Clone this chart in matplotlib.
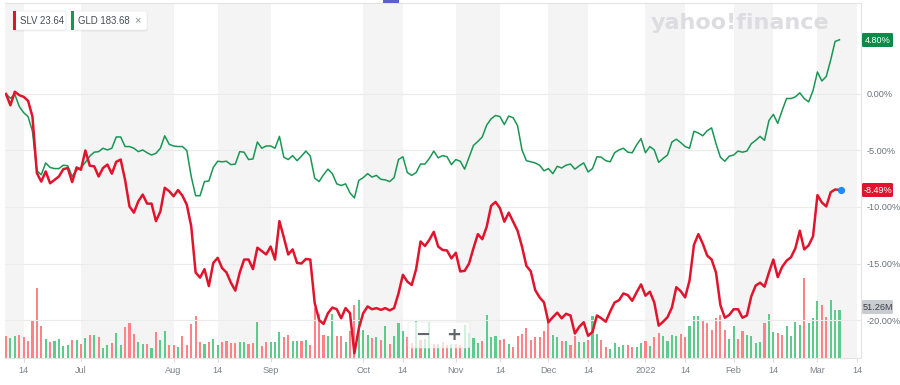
import numpy as np
import pandas as pd
import matplotlib
matplotlib.use("Agg")
import matplotlib.pyplot as plt
from matplotlib.patches import FancyBboxPatch, Rectangle

plt.rcParams['font.family'] = ['Liberation Sans', 'DejaVu Sans']

# trading days: series run Jun 8 2021 -> Mar 8 2022, axis runs on to Mar 14
holidays = ["2021-07-05", "2021-09-06", "2021-11-25", "2021-12-24",
            "2022-01-17", "2022-02-21"]
days = pd.bdate_range("2021-06-08", "2022-03-14")
days = days[~days.isin(pd.to_datetime(holidays))]

# % change since first day
slv_pct = [
    0.0, -1.0, 0.2, -0.1, -0.25, -0.6, -2.0, -7.0, -7.75, -6.85,
    -7.9, -7.6, -7.3, -6.65, -6.55, -7.8, -6.5, -6.7, -5.0, -6.35,
    -6.4, -7.3, -6.55, -6.25, -7.05, -6.0, -5.8, -7.6, -9.95, -10.5,
    -9.5, -8.9, -9.7, -9.7, -11.25, -10.4, -8.3, -8.6, -9.05, -8.5,
    -9.0, -9.8, -11.7, -15.8, -16.25, -15.5, -17.0, -14.95, -14.5, -15.4,
    -15.8, -16.7, -17.4, -15.8, -14.65, -14.65, -15.5, -13.6, -13.9, -14.2,
    -13.5, -14.65, -11.25, -12.7, -14.2, -13.75, -14.95, -15.0, -14.6, -14.65,
    -18.5, -20.0, -20.35, -19.4, -18.9, -19.05, -19.85, -18.95, -19.4, -22.95,
    -20.75, -19.4, -18.8, -19.05, -18.95, -19.1, -18.95, -19.15, -18.95, -17.65,
    -16.0, -16.6, -16.9, -15.5, -13.05, -13.45, -12.9, -12.2, -13.5, -13.8,
    -13.85, -14.55, -14.05, -15.7, -15.65, -15.0, -13.65, -12.4, -12.85, -11.75,
    -9.9, -9.55, -10.1, -11.3, -10.5, -11.3, -12.1, -13.5, -15.2, -15.7,
    -17.35, -18.0, -18.45, -20.2, -19.75, -19.35, -19.85, -19.45, -19.6, -21.2,
    -20.6, -20.2, -21.4, -21.05, -19.6, -19.85, -20.15, -19.25, -18.45, -18.25,
    -17.65, -17.8, -18.3, -17.55, -16.85, -17.85, -17.5, -18.45, -20.5, -20.15,
    -19.75, -18.9, -17.1, -17.45, -18.0, -16.5, -13.35, -12.4, -13.25, -14.3,
    -14.65, -15.8, -18.7, -19.8, -19.55, -19.05, -19.05, -19.8, -19.6, -17.9,
    -16.95, -16.7, -17.05, -15.8, -14.65, -16.2, -15.3, -14.75, -14.45, -13.65,
    -12.1, -13.75, -13.4, -12.6, -8.95, -9.6, -9.95, -8.7, -8.45, -8.49,
]
gld_pct = [
    0.0, -0.38, -0.03, -1.1, -1.65, -2.0, -3.3, -6.8, -7.15, -6.1,
    -6.5, -6.6, -6.6, -6.3, -6.35, -7.3, -6.75, -6.5, -6.05, -5.5,
    -5.15, -5.1, -4.8, -4.95, -4.8, -3.8, -3.8, -4.65, -4.65, -4.8,
    -5.1, -4.95, -5.2, -5.4, -5.25, -4.8, -3.7, -4.45, -4.6, -4.65,
    -4.65, -5.0, -7.3, -9.0, -9.0, -7.75, -7.7, -6.5, -5.95, -6.0,
    -5.95, -6.25, -6.2, -5.1, -5.15, -5.8, -5.75, -4.25, -4.8, -4.6,
    -4.6, -4.8, -3.75, -5.6, -5.8, -5.45, -5.9, -5.5, -5.05, -5.5,
    -7.45, -7.75, -7.15, -6.65, -7.05, -7.95, -8.1, -7.95, -8.75, -9.2,
    -7.65, -7.4, -7.05, -7.35, -7.2, -7.55, -7.6, -7.75, -7.4, -5.8,
    -5.55, -6.95, -7.2, -6.95, -6.2, -6.2, -5.7, -5.05, -5.65, -5.45,
    -5.55, -6.25, -5.8, -5.95, -6.65, -5.6, -4.55, -4.2, -3.8, -2.75,
    -2.2, -1.9, -2.0, -2.7, -1.95, -2.1, -2.8, -4.95, -5.9, -6.0,
    -6.1, -6.3, -6.8, -6.6, -7.05, -6.4, -6.55, -6.3, -6.2, -6.65,
    -6.35, -6.1, -6.9, -6.6, -5.55, -5.6, -5.9, -6.0, -5.2, -4.95,
    -4.8, -5.15, -5.2, -4.5, -3.95, -5.2, -4.65, -4.95, -6.05, -5.7,
    -5.4, -4.25, -4.0, -4.3, -4.65, -4.8, -3.3, -3.45, -3.7, -3.25,
    -3.0, -4.4, -5.6, -5.95, -5.5, -5.4, -5.05, -5.15, -5.05, -4.4,
    -4.1, -3.75, -4.1, -2.35, -1.8, -2.6, -1.45, -0.4, -0.4, -0.25,
    0.1, -0.4, -0.7, 0.3, 1.95, 1.15, 1.55, 3.0, 4.65, 4.8,
]
# volume, millions of shares
volume_m = [
    23.5, 21.4, 23.9, 24.9, 22.5, 18.5, 41.0, 75.2, 34.6, 20.7,
    17.4, 18.2, 20.0, 12.8, 13.6, 19.3, 19.3, 14.7, 21.4, 24.3,
    24.9, 22.5, 11.0, 13.9, 16.1, 26.4, 13.6, 33.2, 37.1, 25.7,
    16.8, 14.7, 14.7, 11.0, 27.8, 18.9, 28.9, 13.6, 14.2, 11.8,
    23.5, 14.2, 36.1, 45.3, 17.4, 15.0, 17.4, 20.0, 13.6, 17.1,
    18.2, 16.4, 16.1, 17.1, 17.1, 15.0, 15.7, 38.5, 12.5, 17.1,
    17.1, 17.1, 27.8, 22.5, 24.3, 17.9, 17.9, 18.2, 18.9, 13.6,
    53.5, 47.4, 24.9, 23.5, 47.1, 23.2, 23.5, 17.1, 28.9, 57.0,
    61.7, 29.6, 24.9, 21.4, 22.5, 18.9, 33.9, 15.3, 23.2, 37.5,
    28.9, 22.5, 16.1, 39.3, 19.3, 20.7, 38.5, 15.0, 15.0, 17.1,
    13.9, 15.0, 15.0, 13.9, 35.6, 26.8, 21.4, 16.1, 18.5, 46.3,
    22.5, 23.2, 19.6, 20.7, 15.3, 11.8, 23.2, 26.0, 32.1, 19.6,
    22.5, 22.1, 29.2, 41.7, 24.9, 22.5, 17.9, 17.9, 14.2, 23.2,
    16.8, 16.8, 19.6, 44.6, 26.0, 19.6, 11.8, 10.0, 16.1, 11.8,
    14.2, 14.2, 11.8, 11.8, 16.1, 18.2, 12.8, 22.5, 27.1, 23.2,
    17.9, 24.3, 23.5, 26.0, 22.5, 33.9, 44.6, 45.3, 41.0, 37.8,
    30.3, 42.8, 45.7, 29.6, 20.0, 34.6, 20.0, 28.9, 24.3, 23.5,
    16.1, 17.1, 37.1, 47.4, 27.8, 27.1, 24.9, 33.9, 23.5, 38.5,
    35.0, 85.6, 37.1, 42.8, 61.0, 57.0, 44.2, 61.7, 51.4, 51.26,
]
# u = up day, d = down day
volume_dir = "".join([
    "duuddddddu", "duuuududud", "uduuduuddd", "uududuuddu", "dddddudu",
    "udddduuddu", "dduuudduud", "udddduuddu", "dduuududud", "uuuddudu",
    "ududdudd", "uuuuduuudd", "uddddddddd", "uududduudu", "udduuuudd",
    "uududduuuu", "dduuuddddd", "duudduuuud", "uudduuuudu", "uudduuu",
])

tick_dates = ["2021-06-14", "2021-07-01", "2021-08-01", "2021-08-14", "2021-09-01",
              "2021-10-01", "2021-10-14", "2021-11-01", "2021-11-14", "2021-12-01",
              "2021-12-14", "2022-01-01", "2022-01-14", "2022-02-01", "2022-02-14",
              "2022-03-01", "2022-03-14"]
tick_labels = ["14", "Jul", "Aug", "14", "Sep", "Oct", "14", "Nov", "14", "Dec",
               "14", "2022", "14", "Feb", "14", "Mar", "14"]
pct_ticks = [0, -5, -10, -15, -20]

RED = '#e0142d'
GREEN = '#1a9654'

x = np.arange(len(slv_pct))
tick_idx = days.searchsorted(pd.to_datetime(tick_dates))

W, H = 900, 385
L, R, T, B = 5, 861, 3, 358
pos = [L / W, 1 - B / H, (R - L) / W, (B - T) / H]
px_per_day = 4.41
xlim = ((L - 6) / px_per_day, (R - 6) / px_per_day)
ylim = (-(B - 94) / 11.3, (94 - T) / 11.3)

fig = plt.figure(figsize=(9, 3.85), dpi=100)

# volume + month bands underneath
ax_vol = fig.add_axes(pos, zorder=1)
bounds = [xlim[0]] + list(tick_idx)
for k in range(0, len(bounds) - 1, 2):
    ax_vol.axvspan(bounds[k], bounds[k + 1], color='#f4f4f4', lw=0, zorder=0)
vcol = ['#5ccb8c' if d == 'u' else '#ff8286' for d in volume_dir]
ax_vol.bar(x, volume_m, width=0.48, color=vcol, zorder=2)
ax_vol.set_xlim(*xlim)
ax_vol.set_ylim(0, (B - T) * 1.07)
ax_vol.axis('off')

# price lines
ax = fig.add_axes(pos, zorder=2)
ax.set_facecolor('none')
ax.plot(x, gld_pct, color=GREEN, lw=1.1, zorder=3)
ax.plot(x, slv_pct, color=RED, lw=1.8, zorder=4)
ax.plot(x[-1] + 0.4, slv_pct[-1], 'o', color='#1d8cf8', ms=4.2, zorder=5)
ax.set_xlim(*xlim)
ax.set_ylim(*ylim)
ax.yaxis.tick_right()
ax.set_yticks(pct_ticks)
ax.set_yticklabels([f"{v:.2f}%" for v in pct_ticks])
ax.set_xticks(tick_idx)
ax.set_xticklabels(tick_labels)
ax.tick_params(axis='y', length=0, pad=4, labelsize=6.6, labelcolor='#6b737b')
ax.tick_params(axis='x', length=3, width=0.6, color='#d5d5d5', pad=3,
               labelsize=6.6, labelcolor='#7b838b')
ax.yaxis.grid(True, color='#ebebeb', lw=0.8)
ax.set_axisbelow(True)
ax.spines['left'].set_visible(False)
for s in ['top', 'right', 'bottom']:
    ax.spines[s].set_color('#e3e3e3')
    ax.spines[s].set_linewidth(0.8)

# overlay in pixel coords
ov = fig.add_axes([0, 0, 1, 1], zorder=10)
ov.set_xlim(0, W)
ov.set_ylim(H, 0)
ov.axis('off')

ov.add_patch(Rectangle((383, 0), 16, 3, color='#5b5fd0', lw=0))

ov.text(651, 23, "yahoo!finance", fontsize=16, fontweight='bold',
        family='DejaVu Sans', color='#dcdce1', va='center', ha='left')

chips = [(13, 66, RED, "SLV 23.64", False), (71, 147, GREEN, "GLD 183.68", True)]
for x0, x1, c, label, closable in chips:
    ov.add_patch(FancyBboxPatch((x0 + 0.5, 12.5), x1 - x0, 19,
                                boxstyle='round,pad=0,rounding_size=2',
                                fc='#000000', alpha=0.06, lw=0))
    ov.add_patch(FancyBboxPatch((x0, 11), x1 - x0, 19,
                                boxstyle='round,pad=0,rounding_size=2',
                                fc='white', ec='#ececec', lw=0.5))
    ov.add_patch(Rectangle((x0, 11), 3, 19, color=c, lw=0))
    ov.text(x0 + 7, 20.5, label, fontsize=6.9, color='#454c54', va='center')
    if closable:
        ov.text(x1 - 10, 20.5, "\u00d7", fontsize=8, color='#858b92',
                va='center', ha='center')

# value tags on the right axis
tags = [(40, "4.80%", '#0b8a48', 'white'),
        (190, "-8.49%", '#e0142d', 'white'),
        (307, "51.26M", '#c8cbcf', '#3b4148')]
for yc, s, bg, fg in tags:
    ov.add_patch(FancyBboxPatch((862, yc - 7), 31, 14,
                                boxstyle='round,pad=0,rounding_size=1.5',
                                fc=bg, lw=0))
    ov.text(877.5, yc + 0.3, s, fontsize=6.6, color=fg, va='center', ha='center')

# zoom control
ov.add_patch(FancyBboxPatch((408, 322), 62, 26,
                            boxstyle='round,pad=0,rounding_size=2',
                            fc='white', alpha=0.72, ec='#e2e2e2', lw=0.5))
ov.text(423, 335, "\u2212", fontsize=13, color='#5f666d', ha='center',
        va='center', fontweight='bold', family='DejaVu Sans')
ov.text(454, 335, "+", fontsize=13, color='#5f666d', ha='center',
        va='center', fontweight='bold', family='DejaVu Sans')

fig.savefig("out.png", dpi=100)
